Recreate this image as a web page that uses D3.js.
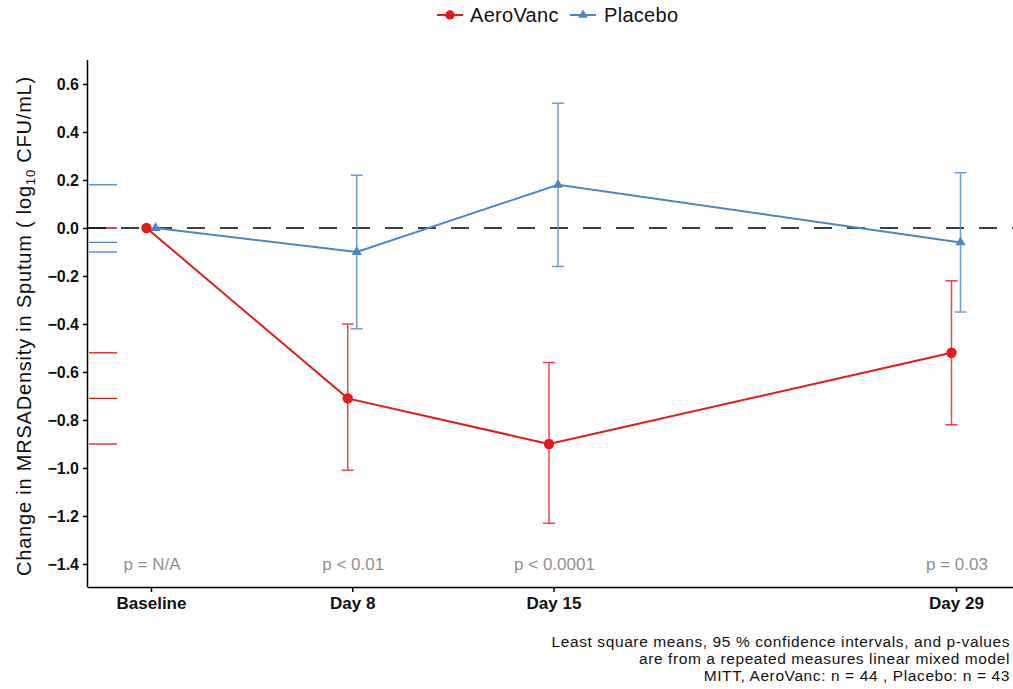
<!DOCTYPE html>
<html>
<head>
<meta charset="utf-8">
<script src="https://cdn.jsdelivr.net/npm/d3@7"></script>
<style>
  body { margin: 0; background: #fff; }
  text { font-family: "Liberation Sans", Arial, sans-serif; }
</style>
</head>
<body>
<script>
// visits, as study day
let visits = ["Baseline", "Day 8", "Day 15", "Day 29"];
let visitDays = [1, 8, 15, 29];
let pLabels = ["p = N/A", "p < 0.01", "p < 0.0001", "p = 0.03"];
let yTicks = [0.6, 0.4, 0.2, 0.0, -0.2, -0.4, -0.6, -0.8, -1.0, -1.2, -1.4];

let aeroMean = [0, -0.71, -0.90, -0.52];
let aeroLow = [null, -1.01, -1.23, -0.82];
let aeroHigh = [null, -0.40, -0.56, -0.22];

let placeboMean = [0, -0.10, 0.18, -0.06];
let placeboLow = [null, -0.42, -0.16, -0.35];
let placeboHigh = [null, 0.22, 0.52, 0.23];

let footnote = [
    "Least square means, 95 % confidence intervals, and p-values",
    "are from a repeated measures linear mixed model",
    "MITT, AeroVanc: n = 44 , Placebo: n = 43"
];

function main() {
    let red = "#e41a1c", blue = "#4a87c4";

    let svg = d3.select("body").append("svg")
        .attr("width", 1013)
        .attr("height", 689);

    let x = d3.scaleLinear().domain([1, 29]).range([151, 956]);
    let y = d3.scaleLinear().domain([-1.496, 0.7]).range([587, 60]);

    let series = [
        { name: "Placebo", color: blue, mean: placeboMean, low: placeboLow, high: placeboHigh, dx: 4.5, shape: d3.symbolTriangle },
        { name: "AeroVanc", color: red, mean: aeroMean, low: aeroLow, high: aeroHigh, dx: -4.5, shape: d3.symbolCircle }
    ];

    // rug marks of the means along the y axis
    series.forEach(s => {
        svg.append("g").selectAll("line")
            .data(s.mean)
            .enter()
            .append("line")
            .attr("x1", 89).attr("x2", 117)
            .attr("y1", d => y(d)).attr("y2", d => y(d))
            .attr("stroke", s.color)
            .attr("stroke-width", 1.3);
    });

    // reference line at zero
    svg.append("line")
        .attr("x1", 88).attr("x2", 1013)
        .attr("y1", y(0)).attr("y2", y(0))
        .attr("stroke", "#000")
        .attr("stroke-width", 1.3)
        .attr("stroke-dasharray", "18,15");

    // axes
    let yAxis = d3.axisLeft(y).tickValues(yTicks).tickSize(5).tickPadding(4)
        .tickFormat(d3.format(".1f"));
    let gy = svg.append("g")
        .attr("transform", "translate(88,0)")
        .call(yAxis);
    gy.select(".domain").attr("d", "M-0.5,60V587.5");

    let xAxis = d3.axisBottom(x).tickValues(visitDays).tickSize(5).tickPadding(5)
        .tickFormat((d, i) => visits[i]);
    let gx = svg.append("g")
        .attr("transform", "translate(0,587)")
        .call(xAxis);
    gx.select(".domain").attr("d", "M88,0.5H1013");

    [gx, gy].forEach(g => {
        g.selectAll(".domain, .tick line").attr("stroke", "#000").attr("stroke-width", 1.5);
        g.selectAll("text").attr("fill", "#111").style("font-weight", "bold")
            .style("font-family", "'Liberation Sans', Arial, sans-serif");
    });
    gx.selectAll("text").style("font-size", "17px");
    gy.selectAll("text").style("font-size", "16px").attr("dy", "0.34em");

    // series
    series.forEach(s => {
        let g = svg.append("g");
        let idx = d3.range(s.mean.length);

        g.selectAll(".bar")
            .data(idx.filter(i => s.low[i] !== null))
            .enter()
            .append("path")
            .attr("d", i => {
                let cx = x(visitDays[i]) + s.dx, y0 = y(s.low[i]), y1 = y(s.high[i]);
                return `M${cx},${y0}V${y1}M${cx - 6},${y0}H${cx + 6}M${cx - 6},${y1}H${cx + 6}`;
            })
            .attr("fill", "none")
            .attr("stroke", s.color)
            .attr("stroke-opacity", 0.8)
            .attr("stroke-width", 1.5);

        let line = d3.line()
            .x(i => x(visitDays[i]) + s.dx)
            .y(i => y(s.mean[i]));
        g.append("path")
            .datum(idx)
            .attr("d", line)
            .attr("fill", "none")
            .attr("stroke", s.color)
            .attr("stroke-width", 2);

        g.selectAll(".pt")
            .data(idx)
            .enter()
            .append("path")
            .attr("transform", i => `translate(${x(visitDays[i]) + s.dx},${y(s.mean[i])})`)
            .attr("d", d3.symbol().type(s.shape).size(s.name == "AeroVanc" ? 85 : 45))
            .attr("fill", s.color);
    });

    // p-values
    svg.append("g").selectAll("text")
        .data(pLabels)
        .enter()
        .append("text")
        .attr("x", (d, i) => x(visitDays[i]) + 1)
        .attr("y", y(-1.4) + 6)
        .attr("text-anchor", "middle")
        .attr("fill", "#8f8f8f")
        .style("font-size", "17px")
        .text(d => d);

    // y title
    let yt = svg.append("text")
        .attr("transform", "translate(31,326) rotate(-90)")
        .attr("text-anchor", "middle")
        .attr("fill", "#111")
        .style("font-size", "20px")
        .style("letter-spacing", "0.8px");
    yt.append("tspan").text("Change in MRSADensity in Sputum ( log");
    yt.append("tspan").attr("dy", 4).style("font-size", "13px").text("10");
    yt.append("tspan").attr("dy", -4).text(" CFU/mL)");

    // legend
    let legend = svg.append("g").attr("transform", "translate(0,15)");
    let items = [
        { name: "AeroVanc", color: red, shape: d3.symbolCircle, x: 437, tx: 470, size: 70 },
        { name: "Placebo", color: blue, shape: d3.symbolTriangle, x: 570, tx: 604, size: 40 }
    ];
    items.forEach(it => {
        legend.append("line")
            .attr("x1", it.x).attr("x2", it.x + 26)
            .attr("stroke", it.color).attr("stroke-width", 2);
        legend.append("path")
            .attr("transform", `translate(${it.x + 13},0)`)
            .attr("d", d3.symbol().type(it.shape).size(it.size))
            .attr("fill", it.color);
        legend.append("text")
            .attr("x", it.tx).attr("y", 7)
            .attr("fill", "#111")
            .style("font-size", "20px")
            .style("letter-spacing", "0.3px")
            .text(it.name);
    });

    // footnote
    svg.append("g").selectAll("text")
        .data(footnote)
        .enter()
        .append("text")
        .attr("x", 1010)
        .attr("y", (d, i) => 647 + i * 17)
        .attr("text-anchor", "end")
        .attr("fill", "#111")
        .style("font-size", "15.5px")
        .style("letter-spacing", "0.6px")
        .text(d => d);
}

main()
</script>
</body>
</html>
